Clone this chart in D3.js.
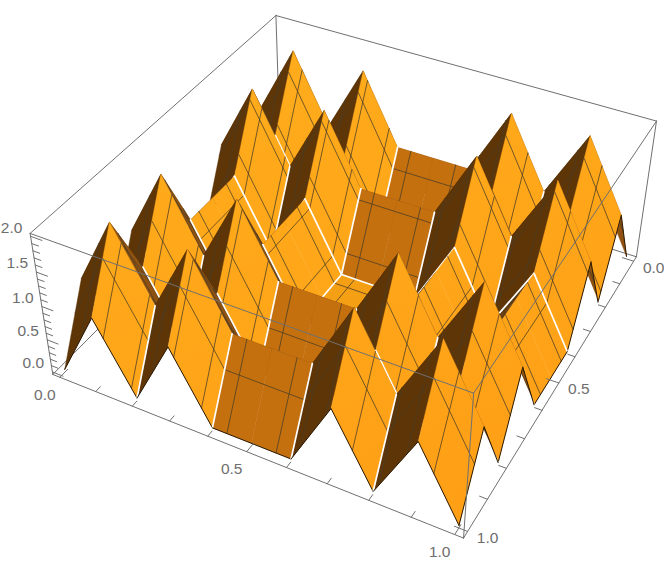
<!DOCTYPE html>
<html><head><meta charset="utf-8">
<script src="https://cdnjs.cloudflare.com/ajax/libs/d3/7.8.5/d3.min.js"></script>
<style>html,body{margin:0;background:#fff}svg{display:block}text{font-family:"Liberation Sans",sans-serif;font-size:15.5px;fill:#6e6e6e;text-anchor:middle}</style>
</head><body><svg id="c" width="664" height="583"><defs><linearGradient id="lit" gradientUnits="userSpaceOnUse" x1="250" y1="100" x2="420" y2="530"><stop offset="0" stop-color="#ffab1b"/><stop offset="1" stop-color="#ff9f16"/></linearGradient></defs></svg>
<script>
// ---- data ----
const xKnots=[0,.1,.2,.3,.4,.5,.6,.7,.8,.9,1];
const yKnots=[0,.1,.2,.3,.4,.5,.6,.7,.8,.9,1];
const zGrid=[ // zGrid[xIndex][yIndex]
[0,1,0,1,0,0,0,1,0,1,0],
[1,2,1,2,1,1,1,2,1,2,1],
[0,1,0,1,0,0,0,1,0,1,0],
[1,2,1,2,1,1,1,2,1,2,1],
[0,1,0,1,0,0,0,1,0,1,0],
[0,1,0,1,0,0,0,1,0,1,0],
[0,1,0,1,0,0,0,1,0,1,0],
[1,2,1,2,1,1,1,2,1,2,1],
[0,1,0,1,0,0,0,1,0,1,0],
[1,2,1,2,1,1,1,2,1,2,1],
[0,1,0,1,0,0,0,1,0,1,0]];
const meshLines=[1,2,3,4,5,6,7,8,9,10,11,12,13,14,15].map(k=>k/16);
const creaseKnots=[.2,.4,.6,.8];
const xTickValues=[0,.1,.2,.3,.4,.5,.6,.7,.8,.9,1];
const yTickValues=[0,.1,.2,.3,.4,.5,.6,.7,.8,.9,1];
const zTickValues=[0,.1,.2,.3,.4,.5,.6,.7,.8,.9,1,1.1,1.2,1.3,1.4,1.5,1.6,1.7,1.8,1.9,2];
const xLabels=[0,.5,1], yLabels=[0,.5,1], zLabels=[0,.5,1,1.5,2];
// face colours keyed by the sign of dz/dx and dz/dy
const faceColors={"-1,-1":"url(#lit)","1,-1":"#5e3506","0,-1":"#c4700f","-1,1":"#8f5211","1,1":"#4a2a05","0,1":"#8a5010","-1,0":"url(#lit)","1,0":"#6b3d08","0,0":"#f59f15"};
// ---- camera: box corners seen on the page ----
const boxCorners=[[0,0,0,280,145],[1,0,0,636,257],[0,1,0,53,375],[1,1,0,464,538],[0,0,1,276,16],[1,0,1,657,121],[0,1,1,30,233],[1,1,1,473,393]];
function dlt(pts){const A=[],b=[];for(const [X,Y,Z,u,v] of pts){A.push([X,Y,Z,1,0,0,0,0,-u*X,-u*Y,-u*Z]);b.push(u);A.push([0,0,0,0,X,Y,Z,1,-v*X,-v*Y,-v*Z]);b.push(v);}
 const n=11,M=d3.range(n).map(i=>d3.range(n+1).map(j=>{let s=0;A.forEach((r,k)=>s+=r[i]*(j<n?r[j]:b[k]));return s}));
 for(let i=0;i<n;i++){let p=i;for(let k=i+1;k<n;k++)if(Math.abs(M[k][i])>Math.abs(M[p][i]))p=k;[M[i],M[p]]=[M[p],M[i]];
  for(let k=0;k<n;k++)if(k!==i){const f=M[k][i]/M[i][i];for(let j=i;j<=n;j++)M[k][j]-=f*M[i][j];}}
 return M.map((r,i)=>r[n]/r[i]).concat(1);}
const P=dlt(boxCorners);
const sx=d3.scaleLinear().domain([-.02,1.02]).range([0,1]);
const sy=d3.scaleLinear().domain([-.02,1.02]).range([0,1]);
const sz=d3.scaleLinear().domain([-.04,2.04]).range([0,1]);
function proj(x,y,z){const X=sx(x),Y=sy(y),Z=sz(z),w=P[8]*X+P[9]*Y+P[10]*Z+P[11];return [(P[0]*X+P[1]*Y+P[2]*Z+P[3])/w,(P[4]*X+P[5]*Y+P[6]*Z+P[7])/w];}
const svg=d3.select("#c");
const line=d3.line();
function seg(a,b,col,w,op){svg.append("path").attr("d",line([proj(...a),proj(...b)])).attr("stroke",col).attr("stroke-width",w).attr("stroke-opacity",op==null?1:op).attr("fill","none").attr("stroke-linecap","round");}
const x0=-.02,x1=1.02,y0=-.02,y1=1.02,z0=-.04,z1=2.04;
const boxCol="#707070";
// back edges
[[[x0,y0,z0],[x1,y0,z0]],[[x0,y0,z0],[x0,y1,z0]],[[x0,y0,z0],[x0,y0,z1]],[[x0,y0,z1],[x1,y0,z1]],[[x0,y0,z1],[x0,y1,z1]]].forEach(e=>seg(e[0],e[1],boxCol,1));
// surface
const meshCol="#4a3c26";
for(let i=0;i<10;i++)for(let j=0;j<10;j++){
 const xa=xKnots[i],xb=xKnots[i+1],ya=yKnots[j],yb=yKnots[j+1];
 const zaa=zGrid[i][j],zba=zGrid[i+1][j],zab=zGrid[i][j+1],zbb=zGrid[i+1][j+1];
 const dx=Math.sign(zba-zaa),dy=Math.sign(zab-zaa);
 const poly=[[xa,ya,zaa],[xb,ya,zba],[xb,yb,zbb],[xa,yb,zab]];
 const col=faceColors[dx+","+dy];
 svg.append("path").attr("d",line(poly.map(p=>proj(...p)))+"Z").attr("fill",col).attr("stroke",col).attr("stroke-width",.4);
 const zAt=(x,y)=>zaa+(zba-zaa)*(x-xa)/(xb-xa)+(zab-zaa)*(y-ya)/(yb-ya);
 meshLines.filter(m=>m>xa&&m<xb).forEach(m=>seg([m,ya,zAt(m,ya)],[m,yb,zAt(m,yb)],meshCol,.9,.85));
 meshLines.filter(m=>m>ya&&m<yb).forEach(m=>seg([xa,m,zAt(xa,m)],[xb,m,zAt(xb,m)],meshCol,.9,.85));
 if(creaseKnots.includes(xa))seg(poly[0],poly[3],"#fff",1.7);
 if(creaseKnots.includes(ya))seg(poly[0],poly[1],"#fff",1.7);
 if(j===9)seg(poly[2],poly[3],"#2a1a05",1);
 if(i===9)seg(poly[1],poly[2],"#2a1a05",1);
}
// front edges and ticks
[[[x1,y1,z0],[x0,y1,z0]],[[x1,y1,z0],[x1,y0,z0]],[[x1,y1,z0],[x1,y1,z1]],[[x1,y1,z1],[x0,y1,z1]],[[x1,y1,z1],[x1,y0,z1]],[[x0,y1,z0],[x0,y1,z1]],[[x1,y0,z0],[x1,y0,z1]]].forEach(e=>seg(e[0],e[1],boxCol,1));
const isMajor=(v,list)=>list.some(l=>Math.abs(l-v)<1e-6);
xTickValues.forEach(v=>seg([v,y1,z0],[v,y1-(isMajor(v,xLabels)?.03:.018),z0],boxCol,1));
yTickValues.forEach(v=>seg([x1,v,z0],[x1-(isMajor(v,yLabels)?.03:.018),v,z0],boxCol,1));
zTickValues.forEach(v=>seg([x0,y1,v],[x0+(isMajor(v,zLabels)?.03:.018),y1,v],boxCol,1));
const fmt=d3.format(".1f");
function label(pt,v,ox,oy){const p=proj(...pt);svg.append("text").attr("x",p[0]+ox).attr("y",p[1]+oy).attr("dy",".35em").text(fmt(v));}
xLabels.forEach(v=>label([v,y1,z0],v,-15,17));
yLabels.forEach(v=>label([x1,v,z0],v,20,6));
zLabels.forEach(v=>label([x0,y1,v],v,-19,-9));
</script></body></html>
